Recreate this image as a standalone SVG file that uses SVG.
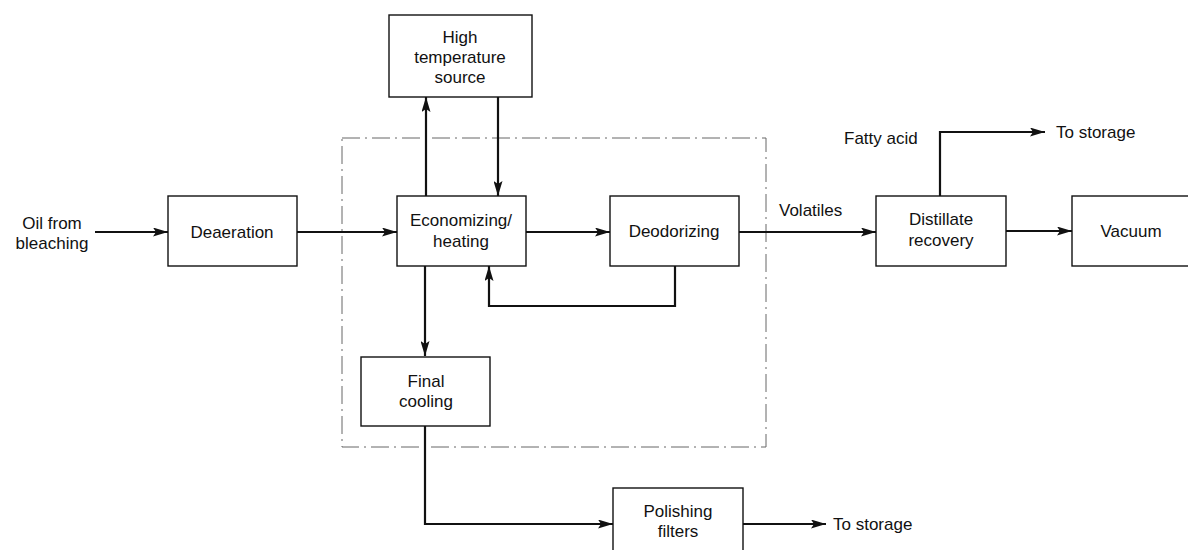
<svg xmlns="http://www.w3.org/2000/svg" width="1188" height="550" viewBox="0 0 1188 550">
  <style>
    .box { fill: #fff; stroke: #111; stroke-width: 1.4; }
    .lbl { font-family: "Liberation Sans", Arial, sans-serif; font-size: 17px; fill: #111; text-anchor: middle; }
    .free { font-family: "Liberation Sans", Arial, sans-serif; font-size: 17px; fill: #111; }
    .flow { fill: none; stroke: #111; stroke-width: 2.2; }
    .zone { fill: none; stroke: #666; stroke-width: 1; stroke-dasharray: 18 5 2 5; }
  </style>
  <defs>
    <marker id="arrow" viewBox="0 0 15 9" refX="15" refY="4.5" markerWidth="15" markerHeight="9" markerUnits="userSpaceOnUse" orient="auto">
      <path d="M0,0 L15,4.5 L0,9 L3,4.5 Z" fill="#111"/>
    </marker>
  </defs>
  <rect width="1188" height="550" fill="#fff"/>

  <!-- deodorizer vessel boundary -->
  <rect class="zone" x="342" y="138" width="424" height="309"/>

  <g id="connectors">
    <path class="flow" d="M95,232 H168" marker-end="url(#arrow)"/>
    <path class="flow" d="M297,232 H397" marker-end="url(#arrow)"/>
    <path class="flow" d="M426,196 V97" marker-end="url(#arrow)"/>
    <path class="flow" d="M498,97 V196" marker-end="url(#arrow)"/>
    <path class="flow" d="M526,232 H610" marker-end="url(#arrow)"/>
    <path class="flow" d="M675,266 V306 H489 V266" marker-end="url(#arrow)"/>
    <path class="flow" d="M425,266 V356" marker-end="url(#arrow)"/>
    <path class="flow" d="M739,232 H876" marker-end="url(#arrow)"/>
    <path class="flow" d="M940,196 V132 H1045" marker-end="url(#arrow)"/>
    <path class="flow" d="M1006,231 H1072" marker-end="url(#arrow)"/>
    <path class="flow" d="M425,426 V524 H613" marker-end="url(#arrow)"/>
    <path class="flow" d="M743,524 H826" marker-end="url(#arrow)"/>
  </g>

  <g id="deaeration">
    <rect class="box" x="168" y="196" width="129" height="70"/>
    <text class="lbl" x="232" y="238">Deaeration</text>
  </g>
  <g id="high-temperature-source">
    <rect class="box" x="389" y="15" width="143" height="82"/>
    <text class="lbl" x="460" y="43">High</text>
    <text class="lbl" x="460" y="63">temperature</text>
    <text class="lbl" x="460" y="83">source</text>
  </g>
  <g id="economizing-heating">
    <rect class="box" x="397" y="196" width="129" height="70"/>
    <text class="lbl" x="461" y="226">Economizing/</text>
    <text class="lbl" x="461" y="247">heating</text>
  </g>
  <g id="deodorizing">
    <rect class="box" x="610" y="196" width="129" height="70"/>
    <text class="lbl" x="674" y="237">Deodorizing</text>
  </g>
  <g id="final-cooling">
    <rect class="box" x="361" y="357" width="129" height="69"/>
    <text class="lbl" x="426" y="387">Final</text>
    <text class="lbl" x="426" y="407">cooling</text>
  </g>
  <g id="distillate-recovery">
    <rect class="box" x="876" y="196" width="130" height="70"/>
    <text class="lbl" x="941" y="225">Distillate</text>
    <text class="lbl" x="941" y="246">recovery</text>
  </g>
  <g id="vacuum">
    <rect class="box" x="1072" y="196" width="120" height="70"/>
    <text class="lbl" x="1131" y="237">Vacuum</text>
  </g>
  <g id="polishing-filters">
    <rect class="box" x="613" y="488" width="130" height="66"/>
    <text class="lbl" x="678" y="517">Polishing</text>
    <text class="lbl" x="678" y="537">filters</text>
  </g>

  <g id="labels">
    <text class="lbl" x="52" y="229">Oil from</text>
    <text class="lbl" x="52" y="249">bleaching</text>
    <text class="free" x="779" y="216">Volatiles</text>
    <text class="free" x="844" y="144">Fatty acid</text>
    <text class="free" x="1056" y="138">To storage</text>
    <text class="free" x="833" y="530">To storage</text>
  </g>
</svg>
